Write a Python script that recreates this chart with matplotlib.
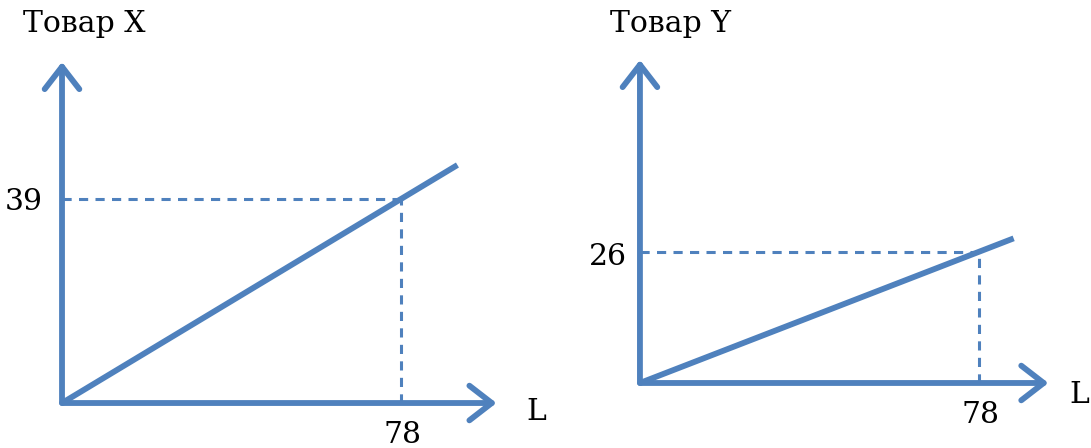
import matplotlib
matplotlib.use("Agg")
import matplotlib.pyplot as plt
from matplotlib.patches import FancyArrowPatch

plt.rcParams['font.family'] = ['DejaVu Serif']

# data
labor_mark = 78
x_good_mark = 39
y_good_mark = 26
x_line_L = [0, 91]
x_line_Q = [0, 45.5]
y_line_L = [0, 86]
y_line_Q = [0, 28.7]
x_axis_len = [100, 94]      # arrow tips along L
y_axis_len = [65.2, 64.1]   # arrow tips along the goods axes
titles = ["Товар X", "Товар Y"]
mark_labels = ["39", "26"]

blue = '#4F81BD'
W, H = 1091, 448
fig = plt.figure(figsize=(W / 100, H / 100), dpi=100)

# axes placed so that the pixel scale matches the reference
ax1 = fig.add_axes([0, 0, 540 / W, 1])
ax1.set_xlim(-14.27, 110)
ax1.set_ylim(-8.6, 77.05)
ax2 = fig.add_axes([550 / W, 0, 541 / W, 1])
ax2.set_xlim(-20.7, 103.8)
ax2.set_ylim(-12.9, 76.0)

LW = 4.2
FS = 21.5


def arrow(ax, p0, p1):
    a = FancyArrowPatch(p0, p1, arrowstyle='->,head_length=0.62,head_width=0.48',
                        mutation_scale=26, color=blue, lw=LW,
                        capstyle='round', joinstyle='round', shrinkA=0, shrinkB=0)
    ax.add_patch(a)


panels = [
    (ax1, x_line_L, x_line_Q, x_good_mark),
    (ax2, y_line_L, y_line_Q, y_good_mark),
]
for i, (ax, lx, ly, mark) in enumerate(panels):
    ax.axis('off')
    ax.plot(lx, ly, color=blue, lw=LW, solid_capstyle='butt')
    ax.plot([0, labor_mark], [mark, mark], color=blue, lw=2.2, dashes=(3, 2.4))
    ax.plot([labor_mark, labor_mark], [0, mark], color=blue, lw=2.2, dashes=(3, 2.4))
    arrow(ax, (0, 0), (x_axis_len[i], 0))
    arrow(ax, (0, 0), (0, y_axis_len[i]))

# texts
ax1.annotate(titles[0], (0, y_axis_len[0]), xytext=(-39, 38), textcoords='offset pixels',
             ha='left', va='center', fontsize=FS)
ax2.annotate(titles[1], (0, y_axis_len[1]), xytext=(-30, 36), textcoords='offset pixels',
             ha='left', va='center', fontsize=FS)
ax1.annotate(mark_labels[0], (0, x_good_mark), xytext=(-19, -3), textcoords='offset pixels',
             ha='right', va='center', fontsize=FS)
ax2.annotate(mark_labels[1], (0, y_good_mark), xytext=(-13, -5), textcoords='offset pixels',
             ha='right', va='center', fontsize=FS)
for ax, dy in [(ax1, -32), (ax2, -32)]:
    ax.annotate(str(labor_mark), (labor_mark, 0), xytext=(2, dy), textcoords='offset pixels',
                ha='center', va='center', fontsize=FS)
ax1.annotate("L", (x_axis_len[0], 0), xytext=(30, -9), textcoords='offset pixels',
             ha='left', va='center', fontsize=FS)
ax2.annotate("L", (x_axis_len[1], 0), xytext=(21, -12), textcoords='offset pixels',
             ha='left', va='center', fontsize=FS)

fig.savefig('out.png', dpi=100)
